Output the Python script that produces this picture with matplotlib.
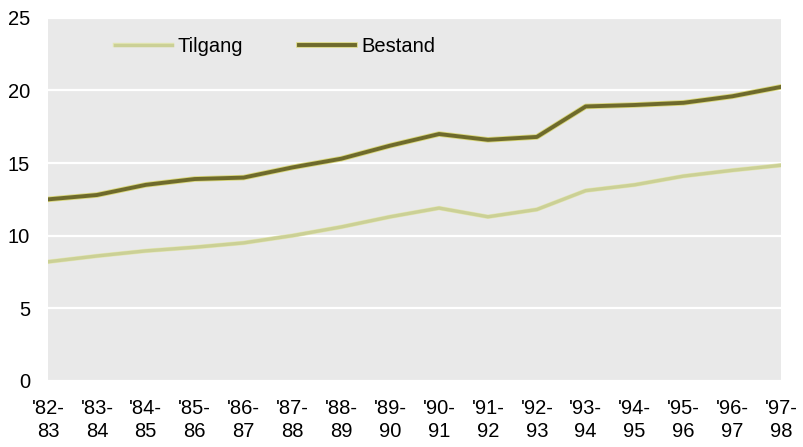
import matplotlib
matplotlib.use('Agg')
import matplotlib.pyplot as plt
import matplotlib.patheffects as pe

plt.rcParams['font.family'] = ['Liberation Sans', 'DejaVu Sans']

# Data
perioder = ["'82-\n83", "'83-\n84", "'84-\n85", "'85-\n86", "'86-\n87", "'87-\n88",
            "'88-\n89", "'89-\n90", "'90-\n91", "'91-\n92", "'92-\n93", "'93-\n94",
            "'94-\n95", "'95-\n96", "'96-\n97", "'97-\n98"]
tilgang = [8.2, 8.6, 8.95, 9.2, 9.5, 10.0, 10.6, 11.3, 11.9, 11.3, 11.8, 13.1,
           13.5, 14.1, 14.5, 14.85]
bestand = [12.5, 12.8, 13.5, 13.9, 14.0, 14.7, 15.3, 16.2, 17.0, 16.6, 16.8, 18.9,
           19.0, 19.15, 19.6, 20.25]

fig = plt.figure(figsize=(8.04, 4.47), dpi=100)
ax = fig.add_axes([0.0597, 0.148, 0.912, 0.812])
ax.set_facecolor('#e9e9e9')

x = list(range(len(perioder)))
ax.plot(x, tilgang, color='#cbd096', linewidth=2.4, label='Tilgang',
        path_effects=[pe.Stroke(linewidth=3.2, foreground='#e4e7b4'), pe.Normal()])
ax.plot(x, bestand, color='#6e6a2c', linewidth=2.8, label='Bestand',
        path_effects=[pe.Stroke(linewidth=4.0, foreground='#d9d77a'), pe.Normal()])

ax.set_xlim(0, len(perioder) - 1)
ax.set_ylim(0, 25)
ax.set_yticks([0, 5, 10, 15, 20, 25])
ax.set_xticks(x)
ax.set_xticklabels(perioder, fontsize=14.5, linespacing=1.3)
ax.tick_params(axis='y', labelsize=14.5, length=0, pad=13)
ax.tick_params(axis='x', length=0, pad=13)
ax.grid(axis='y', color='white', linewidth=1.6)
ax.set_axisbelow(True)
for s in ax.spines.values():
    s.set_visible(False)

ax.legend(loc='upper left', bbox_to_anchor=(0.067, 0.998), ncol=2, frameon=False,
          fontsize=14.5, handlelength=2.8, handletextpad=0.3, columnspacing=2.75)

fig.savefig('out.png', dpi=100)
